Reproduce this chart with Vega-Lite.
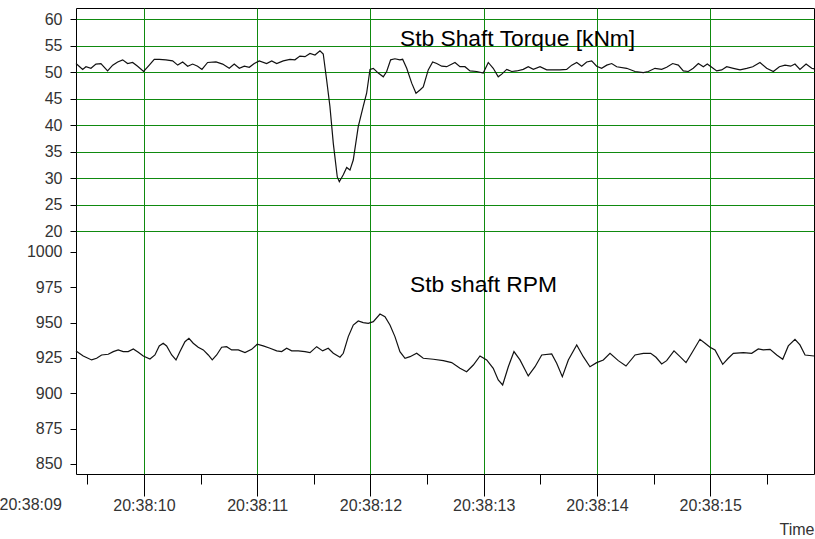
{
  "$schema": "https://vega.github.io/schema/vega-lite/v6.json",
  "width": 738,
  "height": 466,
  "autosize": {"type": "none"},
  "padding": {"left": 76, "top": 8, "right": 1, "bottom": 65},
  "background": "white",
  "config": {
    "view": {"stroke": "#000", "strokeWidth": 1},
    "font": "Liberation Sans",
    "axis": {
      "labelFont": "Liberation Sans",
      "labelFontSize": 16,
      "labelColor": "#333",
      "tickColor": "#000",
      "tickWidth": 1,
      "domain": false,
      "grid": true,
      "gridColor": "#0f8a0f",
      "gridWidth": 1,
      "gridOpacity": 1,
      "labelOverlap": false,
      "labelFlush": false,
      "titleFont": "Liberation Sans",
      "titleFontWeight": "normal",
      "titleColor": "#333"
    }
  },
  "datasets": {
    "torque": [
      {"t": "2024-01-01T20:38:09.400", "v": 51.6},
      {"t": "2024-01-01T20:38:09.459", "v": 50.5},
      {"t": "2024-01-01T20:38:09.488", "v": 51.0},
      {"t": "2024-01-01T20:38:09.532", "v": 50.7},
      {"t": "2024-01-01T20:38:09.576", "v": 51.5},
      {"t": "2024-01-01T20:38:09.620", "v": 51.6},
      {"t": "2024-01-01T20:38:09.679", "v": 50.2},
      {"t": "2024-01-01T20:38:09.724", "v": 51.3},
      {"t": "2024-01-01T20:38:09.768", "v": 51.9},
      {"t": "2024-01-01T20:38:09.812", "v": 52.3},
      {"t": "2024-01-01T20:38:09.856", "v": 51.6},
      {"t": "2024-01-01T20:38:09.900", "v": 51.8},
      {"t": "2024-01-01T20:38:09.944", "v": 51.1},
      {"t": "2024-01-01T20:38:09.997", "v": 50.1},
      {"t": "2024-01-01T20:38:10.047", "v": 51.3},
      {"t": "2024-01-01T20:38:10.091", "v": 52.4},
      {"t": "2024-01-01T20:38:10.135", "v": 52.4},
      {"t": "2024-01-01T20:38:10.194", "v": 52.3},
      {"t": "2024-01-01T20:38:10.253", "v": 52.1},
      {"t": "2024-01-01T20:38:10.298", "v": 51.3},
      {"t": "2024-01-01T20:38:10.342", "v": 51.9},
      {"t": "2024-01-01T20:38:10.386", "v": 51.1},
      {"t": "2024-01-01T20:38:10.430", "v": 51.5},
      {"t": "2024-01-01T20:38:10.474", "v": 51.1},
      {"t": "2024-01-01T20:38:10.512", "v": 50.5},
      {"t": "2024-01-01T20:38:10.562", "v": 51.8},
      {"t": "2024-01-01T20:38:10.636", "v": 51.9},
      {"t": "2024-01-01T20:38:10.695", "v": 51.5},
      {"t": "2024-01-01T20:38:10.753", "v": 50.7},
      {"t": "2024-01-01T20:38:10.797", "v": 51.5},
      {"t": "2024-01-01T20:38:10.842", "v": 50.7},
      {"t": "2024-01-01T20:38:10.886", "v": 51.1},
      {"t": "2024-01-01T20:38:10.930", "v": 50.9},
      {"t": "2024-01-01T20:38:10.974", "v": 51.6},
      {"t": "2024-01-01T20:38:11.018", "v": 52.1},
      {"t": "2024-01-01T20:38:11.083", "v": 51.6},
      {"t": "2024-01-01T20:38:11.128", "v": 52.1},
      {"t": "2024-01-01T20:38:11.172", "v": 51.6},
      {"t": "2024-01-01T20:38:11.230", "v": 52.1},
      {"t": "2024-01-01T20:38:11.289", "v": 52.4},
      {"t": "2024-01-01T20:38:11.333", "v": 52.3},
      {"t": "2024-01-01T20:38:11.377", "v": 53.0},
      {"t": "2024-01-01T20:38:11.422", "v": 52.9},
      {"t": "2024-01-01T20:38:11.466", "v": 53.5},
      {"t": "2024-01-01T20:38:11.510", "v": 53.2},
      {"t": "2024-01-01T20:38:11.554", "v": 54.0},
      {"t": "2024-01-01T20:38:11.583", "v": 53.4},
      {"t": "2024-01-01T20:38:11.613", "v": 48.5},
      {"t": "2024-01-01T20:38:11.642", "v": 43.5},
      {"t": "2024-01-01T20:38:11.672", "v": 36.5},
      {"t": "2024-01-01T20:38:11.707", "v": 30.2},
      {"t": "2024-01-01T20:38:11.725", "v": 29.3},
      {"t": "2024-01-01T20:38:11.760", "v": 30.6},
      {"t": "2024-01-01T20:38:11.790", "v": 32.0},
      {"t": "2024-01-01T20:38:11.819", "v": 31.5},
      {"t": "2024-01-01T20:38:11.848", "v": 33.4},
      {"t": "2024-01-01T20:38:11.892", "v": 39.7},
      {"t": "2024-01-01T20:38:11.936", "v": 43.5},
      {"t": "2024-01-01T20:38:11.966", "v": 46.0},
      {"t": "2024-01-01T20:38:11.996", "v": 50.5},
      {"t": "2024-01-01T20:38:12.025", "v": 50.7},
      {"t": "2024-01-01T20:38:12.069", "v": 49.8},
      {"t": "2024-01-01T20:38:12.113", "v": 49.1},
      {"t": "2024-01-01T20:38:12.143", "v": 50.1},
      {"t": "2024-01-01T20:38:12.178", "v": 52.3},
      {"t": "2024-01-01T20:38:12.216", "v": 52.5},
      {"t": "2024-01-01T20:38:12.260", "v": 52.3},
      {"t": "2024-01-01T20:38:12.284", "v": 52.4},
      {"t": "2024-01-01T20:38:12.320", "v": 50.7},
      {"t": "2024-01-01T20:38:12.364", "v": 47.9},
      {"t": "2024-01-01T20:38:12.402", "v": 46.0},
      {"t": "2024-01-01T20:38:12.437", "v": 46.6},
      {"t": "2024-01-01T20:38:12.466", "v": 47.2},
      {"t": "2024-01-01T20:38:12.510", "v": 50.4},
      {"t": "2024-01-01T20:38:12.549", "v": 51.9},
      {"t": "2024-01-01T20:38:12.585", "v": 51.6},
      {"t": "2024-01-01T20:38:12.629", "v": 51.1},
      {"t": "2024-01-01T20:38:12.673", "v": 51.0},
      {"t": "2024-01-01T20:38:12.746", "v": 51.8},
      {"t": "2024-01-01T20:38:12.790", "v": 51.0},
      {"t": "2024-01-01T20:38:12.834", "v": 51.0},
      {"t": "2024-01-01T20:38:12.879", "v": 50.2},
      {"t": "2024-01-01T20:38:12.938", "v": 50.1},
      {"t": "2024-01-01T20:38:12.996", "v": 49.8},
      {"t": "2024-01-01T20:38:13.040", "v": 51.8},
      {"t": "2024-01-01T20:38:13.084", "v": 50.7},
      {"t": "2024-01-01T20:38:13.128", "v": 49.1},
      {"t": "2024-01-01T20:38:13.159", "v": 49.6},
      {"t": "2024-01-01T20:38:13.203", "v": 50.5},
      {"t": "2024-01-01T20:38:13.247", "v": 50.1},
      {"t": "2024-01-01T20:38:13.291", "v": 50.2},
      {"t": "2024-01-01T20:38:13.349", "v": 50.5},
      {"t": "2024-01-01T20:38:13.393", "v": 51.0},
      {"t": "2024-01-01T20:38:13.438", "v": 50.5},
      {"t": "2024-01-01T20:38:13.497", "v": 51.0},
      {"t": "2024-01-01T20:38:13.556", "v": 50.4},
      {"t": "2024-01-01T20:38:13.614", "v": 50.4},
      {"t": "2024-01-01T20:38:13.673", "v": 50.4},
      {"t": "2024-01-01T20:38:13.732", "v": 50.5},
      {"t": "2024-01-01T20:38:13.777", "v": 51.3},
      {"t": "2024-01-01T20:38:13.821", "v": 51.8},
      {"t": "2024-01-01T20:38:13.865", "v": 51.1},
      {"t": "2024-01-01T20:38:13.909", "v": 51.9},
      {"t": "2024-01-01T20:38:13.953", "v": 52.1},
      {"t": "2024-01-01T20:38:13.997", "v": 51.1},
      {"t": "2024-01-01T20:38:14.041", "v": 50.7},
      {"t": "2024-01-01T20:38:14.086", "v": 51.3},
      {"t": "2024-01-01T20:38:14.130", "v": 51.6},
      {"t": "2024-01-01T20:38:14.174", "v": 51.0},
      {"t": "2024-01-01T20:38:14.262", "v": 50.7},
      {"t": "2024-01-01T20:38:14.336", "v": 50.1},
      {"t": "2024-01-01T20:38:14.409", "v": 49.9},
      {"t": "2024-01-01T20:38:14.453", "v": 50.1},
      {"t": "2024-01-01T20:38:14.512", "v": 50.7},
      {"t": "2024-01-01T20:38:14.571", "v": 50.5},
      {"t": "2024-01-01T20:38:14.615", "v": 50.9},
      {"t": "2024-01-01T20:38:14.668", "v": 51.6},
      {"t": "2024-01-01T20:38:14.718", "v": 51.3},
      {"t": "2024-01-01T20:38:14.762", "v": 50.2},
      {"t": "2024-01-01T20:38:14.806", "v": 50.1},
      {"t": "2024-01-01T20:38:14.850", "v": 50.7},
      {"t": "2024-01-01T20:38:14.895", "v": 51.6},
      {"t": "2024-01-01T20:38:14.939", "v": 51.0},
      {"t": "2024-01-01T20:38:14.974", "v": 51.5},
      {"t": "2024-01-01T20:38:15.013", "v": 50.9},
      {"t": "2024-01-01T20:38:15.057", "v": 50.2},
      {"t": "2024-01-01T20:38:15.101", "v": 50.4},
      {"t": "2024-01-01T20:38:15.145", "v": 51.0},
      {"t": "2024-01-01T20:38:15.204", "v": 50.7},
      {"t": "2024-01-01T20:38:15.263", "v": 50.4},
      {"t": "2024-01-01T20:38:15.322", "v": 50.7},
      {"t": "2024-01-01T20:38:15.375", "v": 51.0},
      {"t": "2024-01-01T20:38:15.439", "v": 51.8},
      {"t": "2024-01-01T20:38:15.498", "v": 50.7},
      {"t": "2024-01-01T20:38:15.557", "v": 50.1},
      {"t": "2024-01-01T20:38:15.610", "v": 51.0},
      {"t": "2024-01-01T20:38:15.660", "v": 51.3},
      {"t": "2024-01-01T20:38:15.710", "v": 51.1},
      {"t": "2024-01-01T20:38:15.748", "v": 51.5},
      {"t": "2024-01-01T20:38:15.792", "v": 50.5},
      {"t": "2024-01-01T20:38:15.846", "v": 51.5},
      {"t": "2024-01-01T20:38:15.896", "v": 50.7},
      {"t": "2024-01-01T20:38:15.916", "v": 50.6}
    ],
    "rpm": [
      {"t": "2024-01-01T20:38:09.400", "v": 930.0},
      {"t": "2024-01-01T20:38:09.464", "v": 926.4},
      {"t": "2024-01-01T20:38:09.538", "v": 923.6},
      {"t": "2024-01-01T20:38:09.582", "v": 924.8},
      {"t": "2024-01-01T20:38:09.626", "v": 927.1},
      {"t": "2024-01-01T20:38:09.685", "v": 927.6},
      {"t": "2024-01-01T20:38:09.729", "v": 929.5},
      {"t": "2024-01-01T20:38:09.773", "v": 930.7},
      {"t": "2024-01-01T20:38:09.817", "v": 929.5},
      {"t": "2024-01-01T20:38:09.861", "v": 929.5},
      {"t": "2024-01-01T20:38:09.906", "v": 931.4},
      {"t": "2024-01-01T20:38:09.950", "v": 929.0},
      {"t": "2024-01-01T20:38:09.994", "v": 926.4},
      {"t": "2024-01-01T20:38:10.053", "v": 924.3},
      {"t": "2024-01-01T20:38:10.097", "v": 927.1},
      {"t": "2024-01-01T20:38:10.135", "v": 933.5},
      {"t": "2024-01-01T20:38:10.170", "v": 935.4},
      {"t": "2024-01-01T20:38:10.200", "v": 933.5},
      {"t": "2024-01-01T20:38:10.245", "v": 927.1},
      {"t": "2024-01-01T20:38:10.283", "v": 923.6},
      {"t": "2024-01-01T20:38:10.318", "v": 929.5},
      {"t": "2024-01-01T20:38:10.362", "v": 936.5},
      {"t": "2024-01-01T20:38:10.397", "v": 938.9},
      {"t": "2024-01-01T20:38:10.435", "v": 935.4},
      {"t": "2024-01-01T20:38:10.479", "v": 932.6},
      {"t": "2024-01-01T20:38:10.524", "v": 930.7},
      {"t": "2024-01-01T20:38:10.568", "v": 927.1},
      {"t": "2024-01-01T20:38:10.603", "v": 923.6},
      {"t": "2024-01-01T20:38:10.642", "v": 927.1},
      {"t": "2024-01-01T20:38:10.686", "v": 932.6},
      {"t": "2024-01-01T20:38:10.730", "v": 933.0},
      {"t": "2024-01-01T20:38:10.774", "v": 930.7},
      {"t": "2024-01-01T20:38:10.833", "v": 930.7},
      {"t": "2024-01-01T20:38:10.892", "v": 928.8},
      {"t": "2024-01-01T20:38:10.951", "v": 931.1},
      {"t": "2024-01-01T20:38:11.000", "v": 934.7},
      {"t": "2024-01-01T20:38:11.053", "v": 933.5},
      {"t": "2024-01-01T20:38:11.113", "v": 931.9},
      {"t": "2024-01-01T20:38:11.172", "v": 930.0},
      {"t": "2024-01-01T20:38:11.216", "v": 929.5},
      {"t": "2024-01-01T20:38:11.260", "v": 931.9},
      {"t": "2024-01-01T20:38:11.304", "v": 930.0},
      {"t": "2024-01-01T20:38:11.362", "v": 930.0},
      {"t": "2024-01-01T20:38:11.422", "v": 929.5},
      {"t": "2024-01-01T20:38:11.466", "v": 928.8},
      {"t": "2024-01-01T20:38:11.525", "v": 933.0},
      {"t": "2024-01-01T20:38:11.578", "v": 930.0},
      {"t": "2024-01-01T20:38:11.627", "v": 931.9},
      {"t": "2024-01-01T20:38:11.672", "v": 928.3},
      {"t": "2024-01-01T20:38:11.731", "v": 925.5},
      {"t": "2024-01-01T20:38:11.760", "v": 928.3},
      {"t": "2024-01-01T20:38:11.804", "v": 940.1},
      {"t": "2024-01-01T20:38:11.848", "v": 948.3},
      {"t": "2024-01-01T20:38:11.892", "v": 951.2},
      {"t": "2024-01-01T20:38:11.936", "v": 950.0},
      {"t": "2024-01-01T20:38:11.981", "v": 949.5},
      {"t": "2024-01-01T20:38:12.025", "v": 950.7},
      {"t": "2024-01-01T20:38:12.084", "v": 956.1},
      {"t": "2024-01-01T20:38:12.128", "v": 954.2},
      {"t": "2024-01-01T20:38:12.172", "v": 948.3},
      {"t": "2024-01-01T20:38:12.216", "v": 940.1},
      {"t": "2024-01-01T20:38:12.260", "v": 929.5},
      {"t": "2024-01-01T20:38:12.305", "v": 924.8},
      {"t": "2024-01-01T20:38:12.349", "v": 925.9},
      {"t": "2024-01-01T20:38:12.408", "v": 928.3},
      {"t": "2024-01-01T20:38:12.466", "v": 924.8},
      {"t": "2024-01-01T20:38:12.555", "v": 924.1},
      {"t": "2024-01-01T20:38:12.643", "v": 923.1},
      {"t": "2024-01-01T20:38:12.717", "v": 921.7},
      {"t": "2024-01-01T20:38:12.790", "v": 917.7},
      {"t": "2024-01-01T20:38:12.849", "v": 915.3},
      {"t": "2024-01-01T20:38:12.908", "v": 920.0},
      {"t": "2024-01-01T20:38:12.967", "v": 926.4},
      {"t": "2024-01-01T20:38:13.026", "v": 923.6},
      {"t": "2024-01-01T20:38:13.084", "v": 917.7},
      {"t": "2024-01-01T20:38:13.128", "v": 909.4},
      {"t": "2024-01-01T20:38:13.167", "v": 905.9},
      {"t": "2024-01-01T20:38:13.217", "v": 918.8},
      {"t": "2024-01-01T20:38:13.267", "v": 929.5},
      {"t": "2024-01-01T20:38:13.320", "v": 923.6},
      {"t": "2024-01-01T20:38:13.393", "v": 912.3},
      {"t": "2024-01-01T20:38:13.453", "v": 918.8},
      {"t": "2024-01-01T20:38:13.512", "v": 927.1},
      {"t": "2024-01-01T20:38:13.600", "v": 927.8},
      {"t": "2024-01-01T20:38:13.644", "v": 921.2},
      {"t": "2024-01-01T20:38:13.694", "v": 911.8},
      {"t": "2024-01-01T20:38:13.747", "v": 923.6},
      {"t": "2024-01-01T20:38:13.821", "v": 934.2},
      {"t": "2024-01-01T20:38:13.879", "v": 925.9},
      {"t": "2024-01-01T20:38:13.938", "v": 918.8},
      {"t": "2024-01-01T20:38:13.997", "v": 921.7},
      {"t": "2024-01-01T20:38:14.056", "v": 923.6},
      {"t": "2024-01-01T20:38:14.115", "v": 928.3},
      {"t": "2024-01-01T20:38:14.188", "v": 923.1},
      {"t": "2024-01-01T20:38:14.256", "v": 919.3},
      {"t": "2024-01-01T20:38:14.336", "v": 927.1},
      {"t": "2024-01-01T20:38:14.409", "v": 928.3},
      {"t": "2024-01-01T20:38:14.474", "v": 928.3},
      {"t": "2024-01-01T20:38:14.521", "v": 925.5},
      {"t": "2024-01-01T20:38:14.571", "v": 920.8},
      {"t": "2024-01-01T20:38:14.615", "v": 923.1},
      {"t": "2024-01-01T20:38:14.680", "v": 930.0},
      {"t": "2024-01-01T20:38:14.733", "v": 925.9},
      {"t": "2024-01-01T20:38:14.786", "v": 921.7},
      {"t": "2024-01-01T20:38:14.836", "v": 928.3},
      {"t": "2024-01-01T20:38:14.909", "v": 938.2},
      {"t": "2024-01-01T20:38:14.954", "v": 935.4},
      {"t": "2024-01-01T20:38:14.998", "v": 932.6},
      {"t": "2024-01-01T20:38:15.042", "v": 930.7},
      {"t": "2024-01-01T20:38:15.110", "v": 920.5},
      {"t": "2024-01-01T20:38:15.159", "v": 924.8},
      {"t": "2024-01-01T20:38:15.204", "v": 928.3},
      {"t": "2024-01-01T20:38:15.292", "v": 928.8},
      {"t": "2024-01-01T20:38:15.366", "v": 928.3},
      {"t": "2024-01-01T20:38:15.424", "v": 931.4},
      {"t": "2024-01-01T20:38:15.468", "v": 930.7},
      {"t": "2024-01-01T20:38:15.528", "v": 931.1},
      {"t": "2024-01-01T20:38:15.587", "v": 927.1},
      {"t": "2024-01-01T20:38:15.640", "v": 924.1},
      {"t": "2024-01-01T20:38:15.689", "v": 933.5},
      {"t": "2024-01-01T20:38:15.748", "v": 938.2},
      {"t": "2024-01-01T20:38:15.792", "v": 934.2},
      {"t": "2024-01-01T20:38:15.837", "v": 927.1},
      {"t": "2024-01-01T20:38:15.916", "v": 926.4}
    ],
    "torqueLabel": [
      {"t": "2024-01-01T20:38:12.260", "v": 56.2, "label": "Stb Shaft Torque [kNm]"}
    ],
    "rpmLabel": [
      {"t": "2024-01-01T20:38:12.349", "v": 976.6, "label": "Stb shaft RPM"}
    ],
    "cutLabel": [
      {"t": "2024-01-01T20:38:09.000", "v": 821, "label": "20:38:09"}
    ]
  },
  "layer": [
    {
      "encoding": {
        "x": {
          "field": "t",
          "type": "temporal",
          "scale": {
            "domain": [
              {"year": 2024, "month": 1, "date": 1, "hours": 20, "minutes": 38, "seconds": 9, "milliseconds": 400},
              {"year": 2024, "month": 1, "date": 1, "hours": 20, "minutes": 38, "seconds": 15, "milliseconds": 916}
            ],
            "nice": false
          },
          "axis": {
            "orient": "bottom",
            "values": [
              {"year": 2024, "month": 1, "date": 1, "hours": 20, "minutes": 38, "seconds": 10},
              {"year": 2024, "month": 1, "date": 1, "hours": 20, "minutes": 38, "seconds": 11},
              {"year": 2024, "month": 1, "date": 1, "hours": 20, "minutes": 38, "seconds": 12},
              {"year": 2024, "month": 1, "date": 1, "hours": 20, "minutes": 38, "seconds": 13},
              {"year": 2024, "month": 1, "date": 1, "hours": 20, "minutes": 38, "seconds": 14},
              {"year": 2024, "month": 1, "date": 1, "hours": 20, "minutes": 38, "seconds": 15}
            ],
            "format": "%H:%M:%S",
            "tickSize": 22,
            "labelPadding": 1,
            "title": "Time",
            "titleFontSize": 16,
            "titleAnchor": "end",
            "titleAlign": "right",
            "titleBaseline": "middle",
            "titleX": 738,
            "titleY": 55
          }
        },
        "y": {
          "field": "v",
          "type": "quantitative",
          "scale": {"domain": [-25.85, 62.08], "nice": false, "zero": false},
          "axis": {
            "orient": "left",
            "values": [20, 25, 30, 35, 40, 45, 50, 55, 60],
            "tickSize": 6,
            "labelPadding": 8,
            "format": "d",
            "title": null
          }
        }
      },
      "layer": [
        {
          "data": {"name": "torque"},
          "mark": {"type": "line", "color": "#111", "strokeWidth": 1.2}
        },
        {
          "data": {"name": "torqueLabel"},
          "mark": {"type": "text", "align": "left", "baseline": "middle", "fontSize": 22.8, "font": "Liberation Sans", "color": "#000"},
          "encoding": {"text": {"field": "label"}}
        }
      ]
    },
    {
      "encoding": {
        "x": {
          "field": "t",
          "type": "temporal",
          "axis": {
            "orient": "bottom",
            "values": [
              {"year": 2024, "month": 1, "date": 1, "hours": 20, "minutes": 38, "seconds": 9, "milliseconds": 500},
              {"year": 2024, "month": 1, "date": 1, "hours": 20, "minutes": 38, "seconds": 10, "milliseconds": 500},
              {"year": 2024, "month": 1, "date": 1, "hours": 20, "minutes": 38, "seconds": 11, "milliseconds": 500},
              {"year": 2024, "month": 1, "date": 1, "hours": 20, "minutes": 38, "seconds": 12, "milliseconds": 500},
              {"year": 2024, "month": 1, "date": 1, "hours": 20, "minutes": 38, "seconds": 13, "milliseconds": 500},
              {"year": 2024, "month": 1, "date": 1, "hours": 20, "minutes": 38, "seconds": 14, "milliseconds": 500},
              {"year": 2024, "month": 1, "date": 1, "hours": 20, "minutes": 38, "seconds": 15, "milliseconds": 500}
            ],
            "tickSize": 10,
            "labels": false,
            "grid": false,
            "title": null
          }
        },
        "y": {
          "field": "v",
          "type": "quantitative",
          "scale": {"domain": [842.9, 1172.6], "nice": false, "zero": false},
          "axis": {
            "orient": "left",
            "values": [850, 875, 900, 925, 950, 975, 1000],
            "tickSize": 6,
            "labelPadding": 8,
            "format": "d",
            "title": null
          }
        }
      },
      "layer": [
        {
          "data": {"name": "rpm"},
          "mark": {"type": "line", "color": "#111", "strokeWidth": 1.2}
        },
        {
          "data": {"name": "rpmLabel"},
          "mark": {"type": "text", "align": "left", "baseline": "middle", "fontSize": 22.8, "font": "Liberation Sans", "color": "#000"},
          "encoding": {"text": {"field": "label"}}
        },
        {
          "data": {"name": "cutLabel"},
          "mark": {"type": "text", "align": "center", "baseline": "middle", "fontSize": 16, "font": "Liberation Sans", "color": "#333"},
          "encoding": {"text": {"field": "label"}}
        }
      ]
    }
  ],
  "resolve": {"scale": {"y": "independent"}, "axis": {"x": "independent", "y": "independent"}}
}
